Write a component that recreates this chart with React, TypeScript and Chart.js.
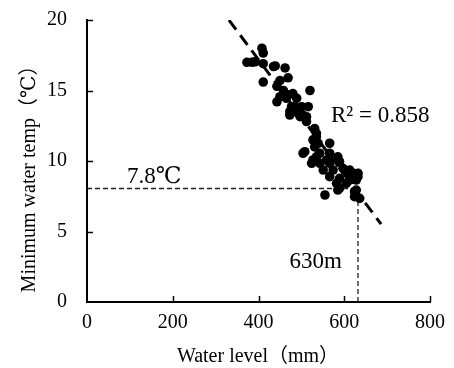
import React, { useEffect, useRef } from "react";
import { Chart, registerables } from "chart.js";

Chart.register(...registerables);

// Observations: water level (mm) vs minimum water temperature (℃)
const waterLevel = [
  408, 411, 373, 385, 392, 411, 435, 462, 411, 450, 469, 443, 458, 450, 469, 489,
  520, 443, 477, 501, 516, 473, 504, 512, 531, 535, 527, 531, 566, 504, 535, 566,
  585, 524, 543, 566, 589, 551, 574, 597, 613, 632, 566, 589, 613, 628, 582, 605,
  585, 555, 624, 624, 480, 485, 473, 493, 512, 535, 539, 508, 527, 543, 559, 601,
  620, 613, 632, 589, 628, 636, 465, 497, 439,
];
const minTemp = [
  18.0, 17.66, 17.0, 17.0, 17.04, 16.9, 16.7, 16.6, 15.6, 15.7, 15.9, 15.3, 15.0, 14.56, 14.7, 14.45,
  15.0, 14.2, 13.85, 13.85, 13.85, 13.26, 13.26, 12.8, 12.3, 11.96, 11.5, 11.0, 11.26, 10.55, 10.3, 10.55,
  10.3, 9.84, 9.84, 9.84, 9.95, 9.36, 9.36, 9.48, 9.36, 9.13, 8.89, 8.77, 8.89, 8.65, 8.42, 8.42,
  7.94, 7.59, 7.82, 7.47, 14.78, 13.85, 13.5, 13.38, 13.14, 11.72, 11.26, 10.66, 10.07, 10.55, 10.07, 9.36,
  9.13, 8.65, 8.89, 8.06, 7.94, 7.35, 14.45, 13.14, 16.74,
];

// Linear trendline end points (R² = 0.858)
const trendX = [331, 686];
const trendY = [20, 5.52];

// Reference guide lines
const refLevel = 632;
const refTemp = 8.05;
const refLevelTop = 7.4;

const xTicks = [0, 200, 400, 600, 800];
const yTicks = [0, 5, 10, 15, 20];

const xTitle = "Water level（mm）";
const yTitle = "Minimum water temp（℃）";
const r2Label = "R² = 0.858";
const tempLabel = "7.8℃";
const levelLabel = "630m";

const SERIF = "'Liberation Serif', 'Times New Roman', 'DejaVu Serif', 'Noto Sans CJK JP', serif";

const overlayPlugin = {
  id: "overlay",
  afterDraw(chart: any) {
    const { ctx } = chart;
    const x = chart.scales.x;
    const y = chart.scales.y;
    ctx.save();
    ctx.strokeStyle = "#000";
    ctx.lineWidth = 1.5;
    // inner tick marks
    xTicks.slice(1).forEach((v) => {
      const px = Math.round(x.getPixelForValue(v)) + 0.5;
      ctx.beginPath();
      ctx.moveTo(px, y.bottom);
      ctx.lineTo(px, y.bottom - 6);
      ctx.stroke();
    });
    yTicks.slice(1).forEach((v) => {
      const py = Math.round(y.getPixelForValue(v)) + 0.5;
      ctx.beginPath();
      ctx.moveTo(x.left, py);
      ctx.lineTo(x.left + 6, py);
      ctx.stroke();
    });

    ctx.fillStyle = "#000";
    // axis titles
    ctx.font = `20px ${SERIF}`;
    ctx.textAlign = "center";
    ctx.textBaseline = "alphabetic";
    ctx.fillText(xTitle, 258, 362);
    ctx.save();
    ctx.translate(35, 174);
    ctx.rotate(-Math.PI / 2);
    ctx.fillText(yTitle, 0, 0);
    ctx.restore();

    // annotations
    ctx.font = `23px ${SERIF}`;
    ctx.textAlign = "left";
    ctx.fillText(r2Label, 331, 122);
    ctx.fillText(tempLabel, 127, 183);
    ctx.textAlign = "right";
    ctx.fillText(levelLabel, 342, 268);
    ctx.restore();
  },
};

export default function App() {
  const canvasRef = useRef<HTMLCanvasElement | null>(null);

  useEffect(() => {
    const canvas = canvasRef.current;
    if (!canvas) return;
    const points = waterLevel.map((v, i) => ({ x: v, y: minTemp[i] }));
    const trend = trendX.map((v, i) => ({ x: v, y: trendY[i] }));
    const chart = new Chart(canvas, {
      type: "scatter",
      data: {
        datasets: [
          {
            label: "trend",
            data: trend,
            showLine: true,
            borderColor: "#000",
            borderWidth: 3,
            borderDash: [12, 7],
            pointRadius: 0,
            order: 0,
          },
          {
            label: "obs",
            data: points,
            backgroundColor: "#000",
            borderWidth: 0,
            pointRadius: 4.8,
            order: 1,
          },
          {
            label: "hline",
            data: [
              { x: 0, y: refTemp },
              { x: refLevel, y: refTemp },
            ],
            showLine: true,
            borderColor: "#222",
            borderWidth: 1.3,
            borderDash: [5, 3],
            pointRadius: 0,
            order: 2,
          },
          {
            label: "vline",
            data: [
              { x: refLevel, y: 0 },
              { x: refLevel, y: refLevelTop },
            ],
            showLine: true,
            borderColor: "#222",
            borderWidth: 1.3,
            borderDash: [5, 3],
            pointRadius: 0,
            order: 2,
          },
        ],
      },
      options: {
        responsive: false,
        animation: false,
        events: [],
        layout: { padding: { top: 20, right: 23, left: 0, bottom: 0 } },
        plugins: { legend: { display: false }, tooltip: { enabled: false } },
        scales: {
          x: {
            type: "linear",
            min: 0,
            max: 800,
            afterFit: (s: any) => {
              s.height = 66;
            },
            afterBuildTicks: (s: any) => {
              s.ticks = xTicks.map((v) => ({ value: v }));
            },
            ticks: {
              color: "#000",
              font: { family: SERIF, size: 20 },
              padding: 9,
              maxRotation: 0,
            },
            grid: { display: false, drawTicks: false },
            border: { display: true, color: "#000", width: 2 },
          },
          y: {
            type: "linear",
            min: 0,
            max: 20,
            afterFit: (s: any) => {
              s.width = 87;
              s.paddingTop = 0;
              s.paddingBottom = 0;
            },
            afterBuildTicks: (s: any) => {
              s.ticks = yTicks.map((v) => ({ value: v }));
            },
            ticks: {
              color: "#000",
              font: { family: SERIF, size: 20 },
              padding: 20,
            },
            grid: { display: false, drawTicks: false },
            border: { display: true, color: "#000", width: 2 },
          },
        },
      },
      plugins: [overlayPlugin],
    });
    return () => chart.destroy();
  }, []);

  return (
    <div style={{ position: "absolute", left: 0, top: 0, width: 454, height: 368, background: "#fff" }}>
      <canvas ref={canvasRef} width={454} height={368} style={{ width: 454, height: 368, display: "block" }} />
    </div>
  );
}
